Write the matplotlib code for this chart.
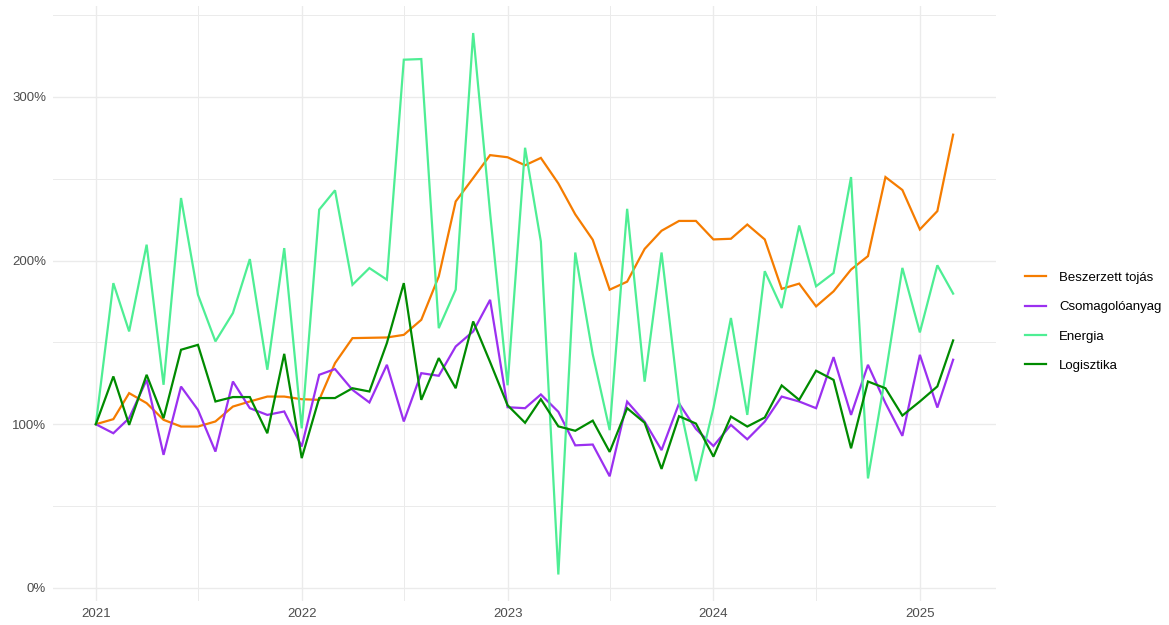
import pandas as pd, numpy as np
import matplotlib
matplotlib.use("Agg")
import matplotlib.pyplot as plt
import matplotlib.dates as mdates
from matplotlib.ticker import FuncFormatter, MultipleLocator

# havi indexek (2021-01 = 100%)
honapok = pd.date_range("2021-01-01", periods=51, freq="MS")
tojas = [100,103.1,119,112.9,102.7,98.6,98.6,101.7,110.8,113.9,116.9,116.9,115.3,
         114.9,137.3,152.6,152.8,153,154.6,163.8,190.3,236.1,250.4,264.4,263.1,
         258.2,262.7,247.1,228.2,212.7,182.2,187.1,207.1,218.2,224.2,224.2,
         212.9,213.3,222,212.9,182.7,185.9,172,181.2,194.5,202.7,251,243.1,219,230.2,276.9]
csomag = [100,94.5,103.7,127.1,81.3,123,108.8,83.3,126.1,109.8,105.7,107.8,86.4,
          130.2,133.7,121,113.3,136.3,101.7,131.2,129.6,147.5,156.7,176,110.4,
          109.8,118.2,107.6,87.1,87.6,68.2,113.8,101.6,84.2,112.7,97.1,
          86.7,99.6,90.8,101.6,116.9,113.9,109.8,141,105.7,136.3,112.9,92.9,142.4,110.2,139.4]
energia = [100,186.2,156.7,209.7,124.1,238.2,179.1,150.6,167.9,200.9,133.3,207.6,97.5,
           231.1,242.9,185.2,195.4,188.3,322.7,323.1,158.7,182.2,339,229,123.8,
           268.9,211.6,8.2,204.9,142.7,96.4,231.6,126,204.9,113.8,65.3,
           110,164.9,105.7,193.5,171,221.4,184.3,192.4,251,66.9,130,195.5,156.1,197.1,179.8]
logiszt = [100,129.2,99.6,130.2,103.7,145.5,148.5,113.9,116.6,116.6,94.5,143,79.3,
           116,116,122,120,149.6,186.2,114.9,140.4,122,162.8,138,111.6,
           100.9,115.3,98.7,96,102.2,83.1,109.8,100.9,72.7,104.9,100.4,
           80.2,104.7,98.6,104.1,123.7,114.9,132.7,127.1,85.3,126.1,122,105.3,113.9,123.1,151.2]
nevek = ["Beszerzett tojás","Csomagolóanyag","Energia","Logisztika"]
szinek = ["#F57C00","#9B30F0","#4EEE94","#008B00"]

plt.rcParams.update({"font.family":"Liberation Sans","font.size":9})
fig = plt.figure(figsize=(11.69,6.25), dpi=100)
ax = fig.add_axes([53/1169, 1-600.7/625, (996-53)/1169, (600.7-6)/625])

for y,n,c in zip([tojas,csomag,energia,logiszt], nevek, szinek):
    ax.plot(honapok, y, color=c, lw=1.6, label=n, solid_joinstyle="miter")

ax.set_ylim(-7.8, 355.5)
span = honapok[-1]-honapok[0]
ax.set_xlim(honapok[0]-span*0.05, honapok[-1]+span*0.05)
ax.yaxis.set_major_locator(MultipleLocator(100))
ax.yaxis.set_minor_locator(MultipleLocator(50))
ax.yaxis.set_major_formatter(FuncFormatter(lambda v,_: f"{v:.0f}%"))
ax.xaxis.set_major_locator(mdates.YearLocator())
ax.xaxis.set_minor_locator(mdates.MonthLocator(bymonth=7))
ax.xaxis.set_major_formatter(mdates.DateFormatter("%Y"))
ax.grid(True, which="major", color="#EBEBEB", lw=1.0)
ax.grid(True, which="minor", color="#EBEBEB", lw=0.7)
ax.set_axisbelow(True)
for s in ax.spines.values(): s.set_visible(False)
ax.tick_params(which="both", length=0, colors="#4D4D4D", labelsize=9.5, pad=5)

fig.legend(loc="upper left", bbox_to_anchor=(1018/1169, 1-265/625), frameon=False,
           fontsize=9.5, handlelength=1.6, handletextpad=1.0, labelspacing=1.3, borderpad=0)
fig.savefig("out.png", dpi=100)
